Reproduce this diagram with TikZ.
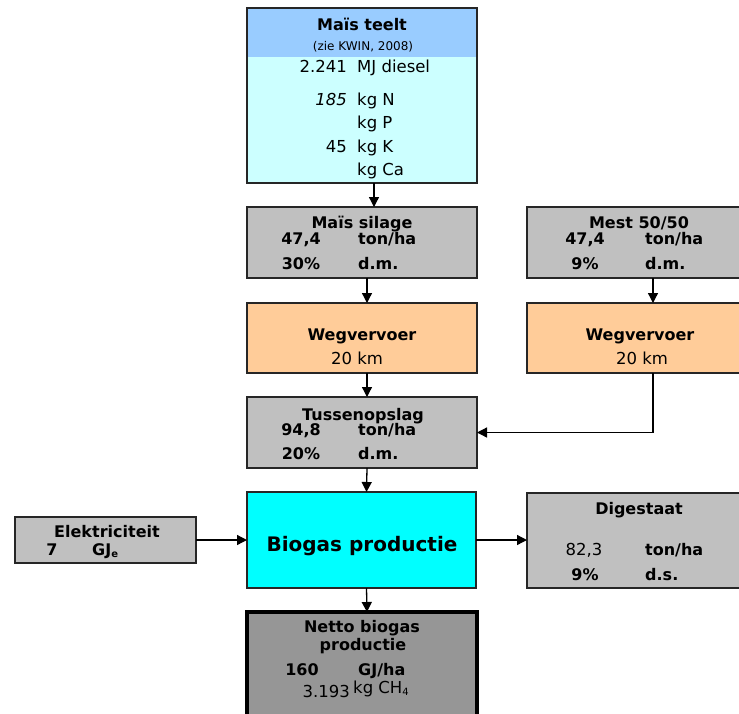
\documentclass[tikz,border=0pt]{standalone}
\usepackage{fontspec}
\setmainfont{DejaVu Sans}
\usetikzlibrary{arrows.meta}
\definecolor{hdrblue}{HTML}{99CCFF}
\definecolor{lightcyan}{HTML}{CCFFFF}
\definecolor{boxgray}{HTML}{C0C0C0}
\definecolor{boxorange}{HTML}{FFCC99}
\definecolor{boxcyan}{HTML}{00FFFF}
\definecolor{darkgray}{HTML}{969696}
\newcommand{\subtxt}[1]{\raisebox{-2.5pt}{\fontsize{10}{10}\selectfont #1}}
\tikzset{
  box/.style={draw=black!85, line width=1.3pt, inner sep=0pt, outer sep=0pt, anchor=north west},
  arr/.style={-{Triangle[length=10pt,width=10pt]}, line width=1.3pt, black},
  ttl/.style={font=\fontsize{16}{18}\selectfont\bfseries, inner sep=0pt, anchor=base},
  val/.style={font=\fontsize{16}{18}\selectfont\bfseries, inner sep=0pt},
  reg/.style={font=\fontsize{16.5}{18}\selectfont, inner sep=0pt},
}
\begin{document}
\begin{tikzpicture}[x=1pt,y=-1pt]
\clip (0,0) rectangle (739,713);
\fill[white] (0,0) rectangle (739,713);
% boxes
\node[box, fill=lightcyan, minimum width=230pt, minimum height=175pt,
  path picture={\fill[hdrblue] (path picture bounding box.north west) rectangle ([yshift=-49pt]path picture bounding box.north east);}] (teelt) at (247,8) {};
\node[box, fill=boxgray, minimum width=230pt, minimum height=71pt] (silage) at (247,207) {};
\node[box, fill=boxorange, minimum width=230pt, minimum height=70pt] (weg1) at (247,303) {};
\node[box, fill=boxgray, minimum width=230pt, minimum height=71pt] (tussen) at (247,397) {};
\node[box, fill=boxcyan, minimum width=229pt, minimum height=96pt] (biogas) at (247,492) {};
\node[box, fill=darkgray, draw=black, line width=4pt, minimum width=230pt, minimum height=130pt] (netto) at (247,612) {};
\node[box, fill=boxgray, minimum width=252pt, minimum height=71pt] (mest) at (527,207) {};
\node[box, fill=boxorange, minimum width=252pt, minimum height=70pt] (weg2) at (527,303) {};
\node[box, fill=boxgray, minimum width=252pt, minimum height=95pt] (digest) at (527,493) {};
\node[box, fill=boxgray, minimum width=181pt, minimum height=46pt] (elek) at (15,517) {};
% arrows
\draw[arr] ([xshift=12pt]teelt.south) -- ([xshift=12pt]silage.north);
\draw[arr] ([xshift=5pt]silage.south) -- ([xshift=5pt]weg1.north);
\draw[arr] ([xshift=5pt]weg1.south) -- ([xshift=5pt]tussen.north);
\draw[arr] ([xshift=5pt]tussen.south) -- ([xshift=5pt]biogas.north);
\draw[arr] ([xshift=5pt]biogas.south) -- ([xshift=5pt]netto.north);
\draw[arr] (mest.south) -- (weg2.north);
\draw[arr] (weg2.south) |- (tussen.east);
\draw[arr] (biogas.east) -- (biogas.east -| digest.west);
\draw[arr] (elek.east) -- (elek.east -| biogas.west);
% Mais teelt texts
\node[ttl] (t1) at (362,30) {Maïs teelt};
\node[font=\fontsize{12}{13}\selectfont, inner sep=0pt, anchor=base] (t2) at (363,50) {(zie KWIN, 2008)};
\node[reg, anchor=base east] (t3) at (347,72) {2.241};
\node[reg, anchor=base west] (t4) at (357,72) {MJ diesel};
\node[reg, anchor=base east] (t5) at (347,105) {\itshape 185};
\node[reg, anchor=base west] (t6) at (357,105) {kg N};
\node[reg, anchor=base west] (t7) at (357,128) {kg P};
\node[reg, anchor=base east] (t8) at (347,152) {45};
\node[reg, anchor=base west] (t9) at (357,152) {kg K};
\node[reg, anchor=base west] (t10) at (357,175) {kg Ca};
% Mais silage
\node[ttl] (s1) at (362,228) {Maïs silage};
\node[val, anchor=base] (s2) at (301,244) {47,4};
\node[val, anchor=base west] (s3) at (358,244) {ton/ha};
\node[val, anchor=base] (s4) at (301,269) {30\%};
\node[val, anchor=base west] (s5) at (358,269) {d.m.};
% Wegvervoer 1
\node[ttl] (w1) at (362,340) {Wegvervoer};
\node[reg, anchor=base] (w2) at (357,364) {20 km};
% Tussenopslag
\node[ttl] (u1) at (363,420) {Tussenopslag};
\node[val, anchor=base] (u2) at (301,435) {94,8};
\node[val, anchor=base west] (u3) at (358,435) {ton/ha};
\node[val, anchor=base] (u4) at (301,459) {20\%};
\node[val, anchor=base west] (u5) at (358,459) {d.m.};
% Mest
\node[ttl] (m1) at (639,228) {Mest 50/50};
\node[val, anchor=base] (m2) at (585,244) {47,4};
\node[val, anchor=base west] (m3) at (645,244) {ton/ha};
\node[val, anchor=base] (m4) at (585,269) {9\%};
\node[val, anchor=base west] (m5) at (645,269) {d.m.};
% Wegvervoer 2
\node[ttl] (v1) at (640,340) {Wegvervoer};
\node[reg, anchor=base] (v2) at (642,364) {20 km};
% Biogas
\node[font=\fontsize{20}{22}\selectfont\bfseries, inner sep=0pt, anchor=base] (b1) at (362,551) {Biogas productie};
% Digestaat
\node[ttl] (d1) at (639,514) {Digestaat};
\node[reg, anchor=base] (d2) at (584,555) {82,3};
\node[val, anchor=base west] (d3) at (645,555) {ton/ha};
\node[val, anchor=base] (d4) at (585,580) {9\%};
\node[val, anchor=base west] (d5) at (645,580) {d.s.};
% Elektriciteit
\node[ttl] (e1) at (107,537) {Elektriciteit};
\node[val, anchor=base] (e2) at (52,555) {7};
\node[val, anchor=base west] (e3) at (92,555) {GJ\subtxt{e}};
% Netto
\node[ttl] (n1) at (362,632) {Netto biogas};
\node[ttl] (n2) at (363,650) {productie};
\node[val, anchor=base] (n3) at (302,675) {160};
\node[val, anchor=base west] (n4) at (358,675) {GJ/ha};
\node[reg, anchor=base east] (n5) at (350,697) {3.193};
\node[reg, anchor=base west] (n6) at (353,693) {kg CH\subtxt{4}};
\end{tikzpicture}
\end{document}
